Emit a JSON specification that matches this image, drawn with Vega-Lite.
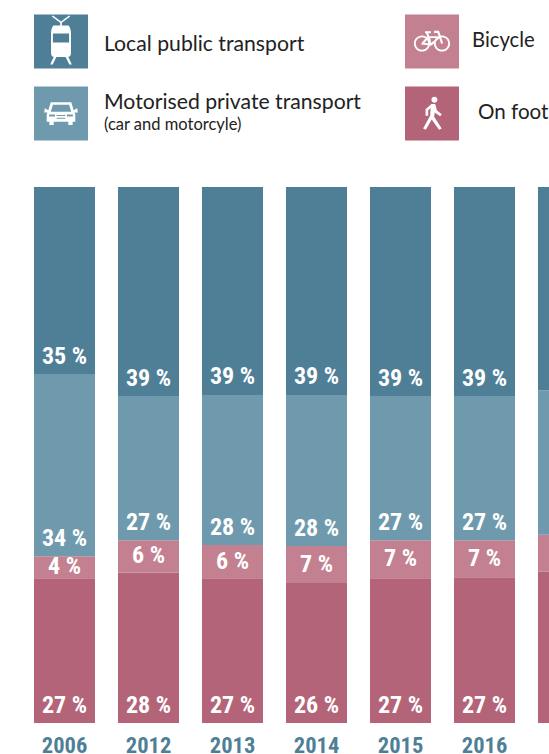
{"$schema":"https://vega.github.io/schema/vega-lite/v6.json","padding":{"left":34,"top":0,"right":0,"bottom":0},"autosize":{"type":"pad"},"background":"white","spacing":17,"config":{"view":{"stroke":null},"concat":{"spacing":17}},
"datasets":{"shares":[
{"year":"2006","mode":"On foot","rank":1,"share":27.0,"label":"27 %"},{"year":"2006","mode":"Bicycle","rank":2,"share":4.1,"label":"4 %"},{"year":"2006","mode":"Motorised private transport","rank":3,"share":34.0,"label":"34 %"},{"year":"2006","mode":"Local public transport","rank":4,"share":34.9,"label":"35 %"},
{"year":"2012","mode":"On foot","rank":1,"share":28.1,"label":"28 %"},{"year":"2012","mode":"Bicycle","rank":2,"share":6.0,"label":"6 %"},{"year":"2012","mode":"Motorised private transport","rank":3,"share":26.9,"label":"27 %"},{"year":"2012","mode":"Local public transport","rank":4,"share":39.0,"label":"39 %"},
{"year":"2013","mode":"On foot","rank":1,"share":27.0,"label":"27 %"},{"year":"2013","mode":"Bicycle","rank":2,"share":6.2,"label":"6 %"},{"year":"2013","mode":"Motorised private transport","rank":3,"share":28.0,"label":"28 %"},{"year":"2013","mode":"Local public transport","rank":4,"share":38.8,"label":"39 %"},
{"year":"2014","mode":"On foot","rank":1,"share":26.1,"label":"26 %"},{"year":"2014","mode":"Bicycle","rank":2,"share":6.9,"label":"7 %"},{"year":"2014","mode":"Motorised private transport","rank":3,"share":28.2,"label":"28 %"},{"year":"2014","mode":"Local public transport","rank":4,"share":38.8,"label":"39 %"},
{"year":"2015","mode":"On foot","rank":1,"share":27.0,"label":"27 %"},{"year":"2015","mode":"Bicycle","rank":2,"share":7.1,"label":"7 %"},{"year":"2015","mode":"Motorised private transport","rank":3,"share":26.9,"label":"27 %"},{"year":"2015","mode":"Local public transport","rank":4,"share":39.0,"label":"39 %"},
{"year":"2016","mode":"On foot","rank":1,"share":27.2,"label":"27 %"},{"year":"2016","mode":"Bicycle","rank":2,"share":6.9,"label":"7 %"},{"year":"2016","mode":"Motorised private transport","rank":3,"share":26.9,"label":"27 %"},{"year":"2016","mode":"Local public transport","rank":4,"share":39.0,"label":"39 %"},
{"year":"2017","mode":"On foot","rank":1,"share":28.2,"label":""},{"year":"2017","mode":"Bicycle","rank":2,"share":6.9,"label":""},{"year":"2017","mode":"Motorised private transport","rank":3,"share":27.0,"label":""},{"year":"2017","mode":"Local public transport","rank":4,"share":37.9,"label":""}
],
"key":[
{"mode":"Local public transport","column":"left","row":"top"},
{"mode":"Motorised private transport","column":"left","row":"bottom"},
{"mode":"Bicycle","column":"right","row":"top"},
{"mode":"On foot","column":"right","row":"bottom"}
]},
"vconcat":[
{"width":515,"height":170,"data":{"name":"key"},
"encoding":{"x":{"field":"column","type":"nominal","axis":null,"scale":{"type":"point","domain":["left","right"],"range":[27,398],"padding":0}},
"y":{"field":"row","type":"nominal","axis":null,"scale":{"type":"point","domain":["top","bottom"],"range":[41.6,113.6],"padding":0}}},
"layer":[
{"mark":{"type":"point","shape":"square","filled":true,"size":2916,"opacity":1,"strokeWidth":0},
"encoding":{"color":{"field":"mode","type":"nominal","legend":null,"scale":{"domain":["Local public transport","Motorised private transport","Bicycle","On foot"],"range":["#4f7f97","#6f9aae","#c38090","#b46478"]}}}},
{"mark":{"type":"point","filled":true,"size":2916,"opacity":1,"strokeWidth":0,"color":"white"},
"encoding":{"shape":{"field":"mode","type":"nominal","legend":null,"scale":{"domain":["Local public transport","Motorised private transport","Bicycle","On foot"],"range":[
"M-.28 -.6L.28 -.6Q.37 -.5 .37 -.3L.37 .42Q.37 .57 .24 .57L-.24 .57Q-.37 .57 -.37 .42L-.37 -.3Q-.37 -.5 -.28 -.6ZM-.3 -.3L-.3 .03L.3 .03L.3 -.3ZM-.18 -.5L.18 -.5L.18 -.42L-.18 -.42ZM-.07 .38L.07 .38L.07 .46L-.07 .46ZM-.03 -.6L-.03 -.7L-.34 -.93L-.3 -.97L0 -.74L.3 -.97L.34 -.93L.03 -.7L.03 -.6ZM-.27 .57L-.17 .57L-.31 .85L-.4 .85ZM.17 .57L.27 .57L.4 .85L.31 .85Z",
"M-.38 -.42L.38 -.42L.47 -.12L.6 -.2L.62 -.04L.5 -.04L.53 .02L.53 .3L.43 .3L.43 .42L.27 .42L.27 .3L-.27 .3L-.27 .42L-.43 .42L-.43 .3L-.53 .3L-.53 .02L-.5 -.04L-.62 -.04L-.6 -.2L-.47 -.12ZM-.3 -.33L-.38 -.07L.38 -.07L.3 -.33ZM-.44 .03L-.44 .11L-.22 .11L-.22 .03ZM.22 .03L.22 .11L.44 .11L.44 .03ZM-.16 .05L-.16 .09L.16 .09L.16 .05ZM-.16 .15L-.16 .19L.16 .19L.16 .15Z",
"M-.67 .07A.3 .3 0 1 1 -.07 .07A.3 .3 0 1 1 -.67 .07ZM-.6 .07A.23 .23 0 1 0 -.14 .07A.23 .23 0 1 0 -.6 .07ZM.07 .07A.3 .3 0 1 1 .67 .07A.3 .3 0 1 1 .07 .07ZM.14 .07A.23 .23 0 1 0 .6 .07A.23 .23 0 1 0 .14 .07ZM-.26 -.38L-.04 -.38L-.04 -.31L-.14 -.31L-.1 -.2L.25 -.2L.2 -.32L.08 -.32L.08 -.4L.26 -.4L.41 .05L.34 .09L.27 -.12L-.01 .14L-.4 .11L-.38 .04L-.18 -.19L-.22 -.31L-.26 -.31ZM-.13 -.12L-.28 .05L-.09 .07ZM-.06 -.13L-.04 .05L.2 -.13Z",
"M.09 -.62A.11 .11 0 1 1 .09 -.4A.11 .11 0 1 1 .09 -.62ZM-.02 -.36L.12 -.36L.18 -.12L.36 .02L.3 .1L.1 -.04L.08 .12L.36 .55L.26 .6L-.01 .22L-.23 .6L-.33 .55L-.07 .08L-.05 -.2L-.14 -.12L-.14 .08L-.24 .08L-.24 -.16Z"
]}}}},
{"transform":[{"filter":"datum.mode==='Local public transport'"}],"mark":{"type":"text","align":"left","baseline":"middle","font":"Lato","fontSize":21.2,"color":"#222222","dx":43,"dy":3},"encoding":{"text":{"field":"mode"}}},
{"transform":[{"filter":"datum.mode==='Motorised private transport'"}],"mark":{"type":"text","align":"left","baseline":"middle","font":"Lato","fontSize":21.2,"color":"#222222","dx":43,"dy":-11},"encoding":{"text":{"field":"mode"}}},
{"transform":[{"filter":"datum.mode==='Motorised private transport'"}],"mark":{"type":"text","align":"left","baseline":"middle","font":"Lato","fontSize":16.5,"color":"#222222","dx":43,"dy":11,"text":"(car and motorcyle)"}},
{"transform":[{"filter":"datum.mode==='Bicycle'"}],"mark":{"type":"text","align":"left","baseline":"middle","font":"Lato","fontSize":20.3,"color":"#222222","dx":40,"dy":-1},"encoding":{"text":{"field":"mode"}}},
{"transform":[{"filter":"datum.mode==='On foot'"}],"mark":{"type":"text","align":"left","baseline":"middle","font":"Lato","fontSize":20.6,"color":"#222222","dx":46,"dy":-1},"encoding":{"text":{"field":"mode"}}}
]},
{"width":515,"height":536,"data":{"name":"shares"},
"transform":[{"stack":"share","groupby":["year"],"sort":[{"field":"rank","order":"ascending"}],"as":["s0","s1"]}],
"encoding":{"x":{"field":"year","type":"nominal","scale":{"type":"band","domain":["2006","2012","2013","2014","2015","2016","2017"],"range":[0,565],"paddingInner":0.2738,"paddingOuter":0},
"axis":{"title":null,"orient":"bottom","domain":false,"ticks":false,"values":["2006","2012","2013","2014","2015","2016"],"labelAngle":0,"labelFont":"Roboto Condensed, DejaVu Sans Condensed, Roboto","labelFontWeight":"bold","labelFontSize":22.5,"labelColor":"#4f7f97","labelPadding":11,"labelOverlap":false,"labelBound":false,"labelFlush":false}}},
"layer":[
{"mark":{"type":"bar","clip":true},"encoding":{"y":{"field":"s1","type":"quantitative","axis":null,"scale":{"domain":[0,100],"nice":false,"zero":false}},"y2":{"field":"s0"},"color":{"field":"mode","type":"nominal","legend":null,"scale":{"domain":["Local public transport","Motorised private transport","Bicycle","On foot"],"range":["#4f7f97","#6f9aae","#c38090","#b46478"]}}}},
{"transform":[{"filter":"datum.mode!=='Bicycle' && datum.label!==''"}],"mark":{"type":"text","clip":true,"color":"white","font":"Roboto Condensed, DejaVu Sans Condensed, Roboto","fontWeight":"bold","fontSize":24,"baseline":"middle","dy":-17.5},"encoding":{"y":{"field":"s0","type":"quantitative","axis":null,"scale":{"domain":[0,100],"nice":false,"zero":false}},"text":{"field":"label"}}},
{"transform":[{"filter":"datum.mode==='Bicycle' && datum.label!==''"},{"fold":["s0","s1"],"as":["edge","level"]},{"aggregate":[{"op":"mean","field":"level","as":"middle"}],"groupby":["year","label"]}],"mark":{"type":"text","clip":true,"color":"white","font":"Roboto Condensed, DejaVu Sans Condensed, Roboto","fontWeight":"bold","fontSize":24,"baseline":"middle"},"encoding":{"y":{"field":"middle","type":"quantitative","axis":null,"scale":{"domain":[0,100],"nice":false,"zero":false}},"text":{"field":"label"}}}
]}
]}
